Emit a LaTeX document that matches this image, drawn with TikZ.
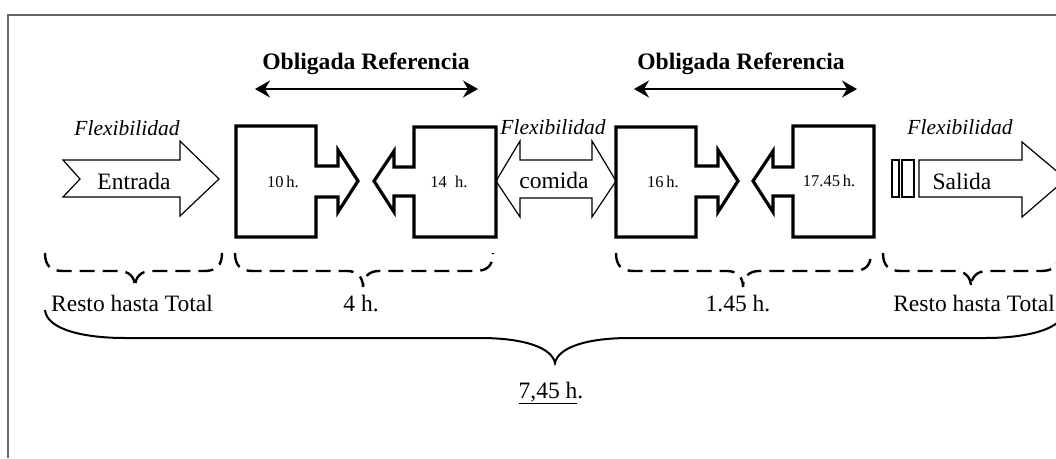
\documentclass[tikz,border=0pt]{standalone}
\usepackage{fontspec}
\setmainfont{Liberation Serif}
\usetikzlibrary{arrows.meta}
\newcommand\mydashbrace[3]{%
 \draw[dbrace] (#1,253) .. controls (#1,266) and (#1+6,271) .. (#1+18,271)
   -- (#3-16,271) .. controls (#3-6,271) and (#3,277) .. (#3,287)
   .. controls (#3,277) and (#3+6,271) .. (#3+16,271)
   -- (#2-18,271) .. controls (#2-6,271) and (#2,266) .. (#2,253);}
\begin{document}
\begin{tikzpicture}[x=1pt,y=-1pt,
 frame/.style={draw=black!60,line width=1.2pt},
 thickbox/.style={draw=black,line width=3.2pt,line join=miter},
 thinarrow/.style={draw=black,line width=1.2pt,line join=miter},
 dbrace/.style={draw=black,line width=2.4pt,dash pattern=on 15pt off 8pt},
 sbrace/.style={draw=black,line width=2pt},
 txt/.style={inner sep=0pt,anchor=base,font=\fontsize{23.5}{28}\selectfont},
 flex/.style={inner sep=0pt,anchor=base,font=\fontsize{21.5}{26}\selectfont\itshape},
 headtxt/.style={inner sep=0pt,anchor=base,font=\fontsize{23.6}{28}\selectfont\bfseries},
 hour/.style={inner sep=0pt,anchor=base,font=\fontsize{16.5}{20}\selectfont},
 refarrow/.style={line width=1.8pt,{Stealth[length=15pt,width=17pt,inset=5pt]}-{Stealth[length=15pt,width=17pt,inset=5pt]}}
]
\useasboundingbox (0,0) rectangle (1056,458);
\clip (0,0) rectangle (1056,458);
\draw[frame] (8,458) -- (8,15) -- (1060,15);

% headings and reference arrows
\node[headtxt] (ob1) at (366,69) {Obligada Referencia};
\node[headtxt] (ob2) at (741,69) {Obligada Referencia};
\coordinate (ob1l) at (255,89); \coordinate (ob1r) at (478,89);
\coordinate (ob2l) at (634,89); \coordinate (ob2r) at (857,89);
\draw[refarrow] (ob1l) -- (ob1r);
\draw[refarrow] (ob2l) -- (ob2r);

% flexibilidad labels
\node[flex] (fx1) at (127,135) {Flexibilidad};
\node[flex] (fx2) at (553,134) {Flexibilidad};
\node[flex] (fx3) at (960,134) {Flexibilidad};

% Entrada arrow
\draw[thinarrow] (63,160) -- (180,160) -- (180,141) -- (219,179) -- (180,216) -- (180,197) -- (63,197) -- (80,179) -- cycle;
\node[txt] (entrada) at (134,189) {Entrada};

% box 1
\draw[thickbox] (236,126) -- (316,126) -- (316,166) -- (338,166) -- (338,150) -- (358,181) -- (338,212) -- (338,197) -- (316,197) -- (316,237) -- (236,237) -- cycle;
\node[hour] (h10) at (283,187) {10\,h.};
% box 2
\draw[thickbox] (414,127) -- (496,127) -- (496,237) -- (414,237) -- (414,196) -- (394,196) -- (394,212) -- (374,181) -- (394,151) -- (394,167) -- (414,167) -- cycle;
\node[hour] (h14) at (449,187) {14\ \ h.};

% comida
\draw[thinarrow] (496,181) -- (520,141) -- (520,160) -- (592,160) -- (592,141) -- (616,181) -- (592,217) -- (592,198) -- (520,198) -- (520,217) -- cycle;
\node[txt] (comida) at (554,188) {comida};

% box 3
\draw[thickbox] (616,127) -- (696,127) -- (696,166) -- (718,166) -- (718,150) -- (738,181) -- (718,212) -- (718,197) -- (696,197) -- (696,237) -- (616,237) -- cycle;
\node[hour] (h16) at (663,187) {16\,h.};
% box 4
\draw[thickbox] (793,126) -- (874,126) -- (874,237) -- (793,237) -- (793,196) -- (773,196) -- (773,212) -- (753,181) -- (773,151) -- (773,167) -- (793,167) -- cycle;
\node[hour] (h1745) at (829,186) {17.45\,h.};

% Salida
\draw[thinarrow] (892,160) rectangle (899,197);
\draw[thinarrow] (902,160) rectangle (914,197);
\draw[thinarrow] (919,160) -- (1022,160) -- (1022,142) -- (1066,179) -- (1022,217) -- (1022,197) -- (919,197) -- cycle;
\node[txt] (salida) at (962,189) {Salida};

% dashed braces
\mydashbrace{45}{222}{135}
\mydashbrace{235}{493}{363}
\mydashbrace{616}{871}{743}
\mydashbrace{883}{1059}{971}

\node[txt] (r1) at (132,311) {Resto hasta Total};
\node[txt] (t4) at (361,311) {4 h.};
\node[txt] (t145) at (738,311) {1.45 h.};
\node[txt] (r2) at (974,311) {Resto hasta Total};

% big brace
\draw[sbrace] (45,310) .. controls (47,330) and (85,338) .. (125,338) -- (480,338)
  .. controls (525,338) and (552,348) .. (555,363)
  .. controls (558,348) and (585,338) .. (630,338) -- (985,338)
  .. controls (1025,338) and (1063,330) .. (1065,310);
\node[txt] (total) at (551,398) {\underline{7,45 h}.};
\end{tikzpicture}
\end{document}
